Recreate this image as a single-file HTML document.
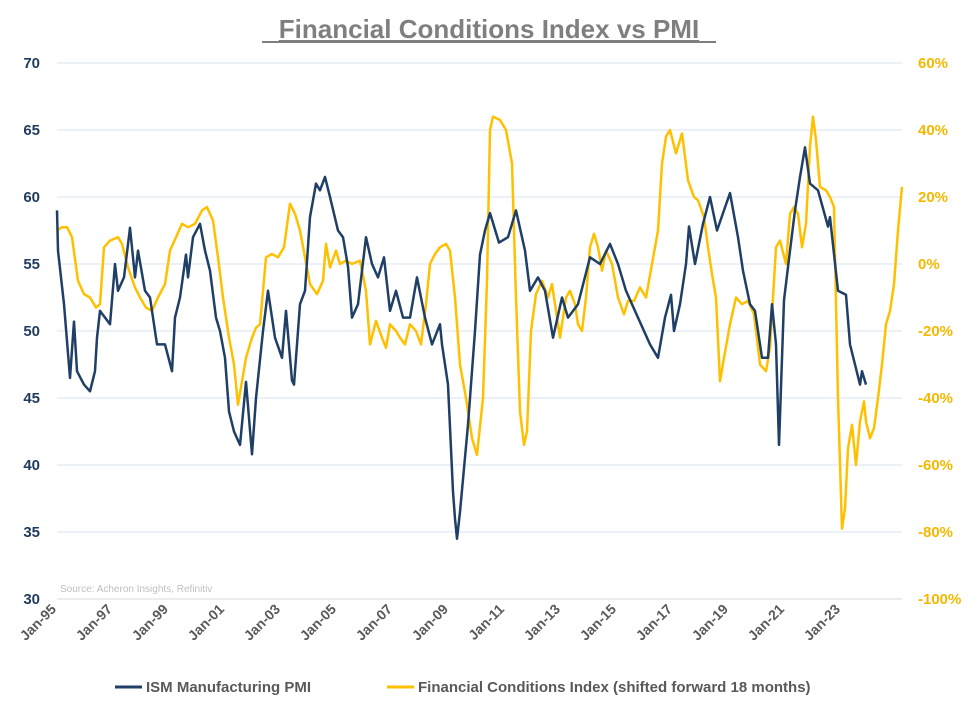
<!DOCTYPE html>
<html><head><meta charset="utf-8"><style>
html,body{margin:0;padding:0;background:#fff;}
svg text{font-family:"Liberation Sans",Arial,sans-serif;}
</style></head><body>
<svg id="c" width="977" height="711" xmlns="http://www.w3.org/2000/svg">
<rect width="977" height="711" fill="#fff"/>
<text x="489" y="38" text-anchor="middle" font-size="26" font-weight="bold" fill="#7f7f7f" text-decoration="underline">Financial Conditions Index vs PMI</text>
<line x1="262" y1="42" x2="716" y2="42" stroke="#7f7f7f" stroke-width="2"/>
<g id="grid" stroke="#d9e3ef" stroke-width="1"></g>
<g id="ly" font-size="15" font-weight="bold" fill="#1f3b5e" text-anchor="end"></g>
<g id="ry" font-size="15" font-weight="bold" fill="#f5b800" text-anchor="start"></g>
<g id="xl" font-size="14" font-weight="bold" fill="#595959"></g>
<text x="60" y="592" font-size="10" fill="#bfbfbf">Source: Acheron Insights, Refinitiv</text>
<polyline id="fci" fill="none" stroke="#ffc000" stroke-width="2.5" stroke-linejoin="round"/>
<polyline id="pmi" fill="none" stroke="#1f3f66" stroke-width="2.5" stroke-linejoin="round"/>
<line x1="115" y1="687" x2="142" y2="687" stroke="#1f3f66" stroke-width="3"/>
<text x="146" y="692" font-size="15" font-weight="bold" fill="#595959">ISM Manufacturing PMI</text>
<line x1="387" y1="687" x2="414" y2="687" stroke="#ffc000" stroke-width="3"/>
<text x="418" y="692" font-size="15" font-weight="bold" fill="#595959">Financial Conditions Index (shifted forward 18 months)</text>
</svg>
<script>
var NS="http://www.w3.org/2000/svg";
function el(p,t,a,txt){var e=document.createElementNS(NS,t);for(var k in a)e.setAttribute(k,a[k]);if(txt!==undefined)e.textContent=txt;document.getElementById(p).appendChild(e);}
for(var i=0;i<=8;i++){var y=63+i*67;
 if(i<8) el("grid","line",{x1:57,x2:902,y1:y,y2:y});
 el("ly","text",{x:40,y:y+5},String(70-5*i));
 el("ry","text",{x:918,y:y+5},(60-20*i)+"%");}
el("grid","line",{x1:57,x2:902,y1:599,y2:599,stroke:"#d9d9d9"});
for(var yr=1995;yr<=2023;yr+=2){var x=57+(yr-1995)*28;
 el("xl","text",{x:x,y:610,transform:"rotate(-45 "+x+" 610)","text-anchor":"end"},"Jan-"+String(yr).slice(2));}
var pmi=[57,59,58,56,64,52,70,46.5,74,50.7,77,47,84,46,90,45.5,95,47,97,49.5,100,51.5,110,50.5,115,55,118,53,124,54,130,57.7,135,54,138,56,145,53,150,52.5,157,49,165,49,172,47,175,51,180,52.5,186,55.7,188,54,193,57,200,58,205,56,210,54.5,216,51,220,50,225,48,229,44,234,42.5,240,41.5,246,46.2,252,40.8,256,45,263,50,268,53,275,49.5,282,48,286,51.5,292,46.3,294,46,300,52,305,53,310,58.5,316,61,320,60.5,325,61.5,330,60,338,57.5,343,57,348,54.8,352,51,358,52,366,57,372,55,378,54,384,55.5,390,51.5,396,53,403,51,410,51,417,54,425,51,432,49,440,50.5,442,49,448,46,453,38,455,36,457,34.5,460,36.5,468,43,475,50,480,55.7,485,57.5,490,58.8,499,56.6,508,57,516,59,525,56,530,53,538,54,545,53,553,49.5,562,52.5,568,51,578,52,590,55.5,600,55,610,56.5,618,55,626,53,650,49,658,48,665,51,671,52.7,674,50,680,52,686,55,689,57.8,695,55,703,58,710,60,717,57.5,730,60.3,738,57,743,54.5,750,52,755,51.5,762,48,768,48,772,52,776,49,779,41.5,784,52.3,790,56,795,59,800,61.5,805,63.7,810,61,818,60.5,828,57.8,830,58.5,838,53,846,52.7,850,49,855,47.5,860,46,862,47,866,46];
var fci=[57,10,62,11,67,11,72,8,78,-5,84,-9,90,-10,96,-13,100,-12,104,5,110,7,118,8,122,6,128,-1,135,-7,140,-10,146,-13,152,-14,158,-10,165,-6,170,4,176,8,182,12,188,11,195,12,202,16,207,17,213,13,218,2,223,-10,229,-22,234,-30,238,-42,242,-35,246,-28,252,-22,256,-19,260,-18,266,2,272,3,278,2,284,5,290,18,295,15,300,10,305,2,310,-6,317,-9,323,-5,326,6,330,-1,336,4,340,0,346,1,352,0,360,1,366,-8,370,-24,376,-17,382,-22,386,-25,390,-18,396,-20,400,-22,405,-24,410,-18,416,-20,421,-24,426,-12,430,0,435,3,440,5,446,6,450,4,455,-10,460,-30,466,-40,472,-52,477,-57,483,-40,487,-5,490,40,493,44,500,43,506,40,512,30,516,-10,520,-44,524,-54,527,-50,531,-20,536,-9,542,-5,548,-10,552,-6,556,-14,560,-22,566,-10,570,-8,575,-12,578,-18,582,-20,586,-10,590,5,594,9,598,5,602,-2,606,4,612,0,618,-10,624,-15,628,-11,634,-11,640,-7,646,-10,652,0,658,10,662,30,666,38,670,40,676,33,682,39,688,25,694,20,698,19,704,14,708,5,712,-3,716,-10,720,-35,724,-28,730,-18,736,-10,742,-12,748,-11,754,-15,760,-30,766,-32,770,-25,776,5,780,7,786,0,790,15,794,17,798,15,802,5,806,12,810,35,813,44,816,37,820,23,826,22,830,20,834,17,838,-40,842,-79,845,-73,848,-55,852,-48,856,-60,860,-47,864,-41,866,-47,870,-52,874,-49,878,-40,882,-30,886,-18,890,-14,894,-6,898,10,902,23];
function pts(a,f){var s=[];for(var i=0;i<a.length;i+=2)s.push(a[i]+","+f(a[i+1]).toFixed(1));return s.join(" ");}
document.getElementById("pmi").setAttribute("points",pts(pmi,function(v){return 63+(70-v)*13.4;}));
document.getElementById("fci").setAttribute("points",pts(fci,function(v){return 63+(60-v)*3.35;}));
</script>
</body></html>
